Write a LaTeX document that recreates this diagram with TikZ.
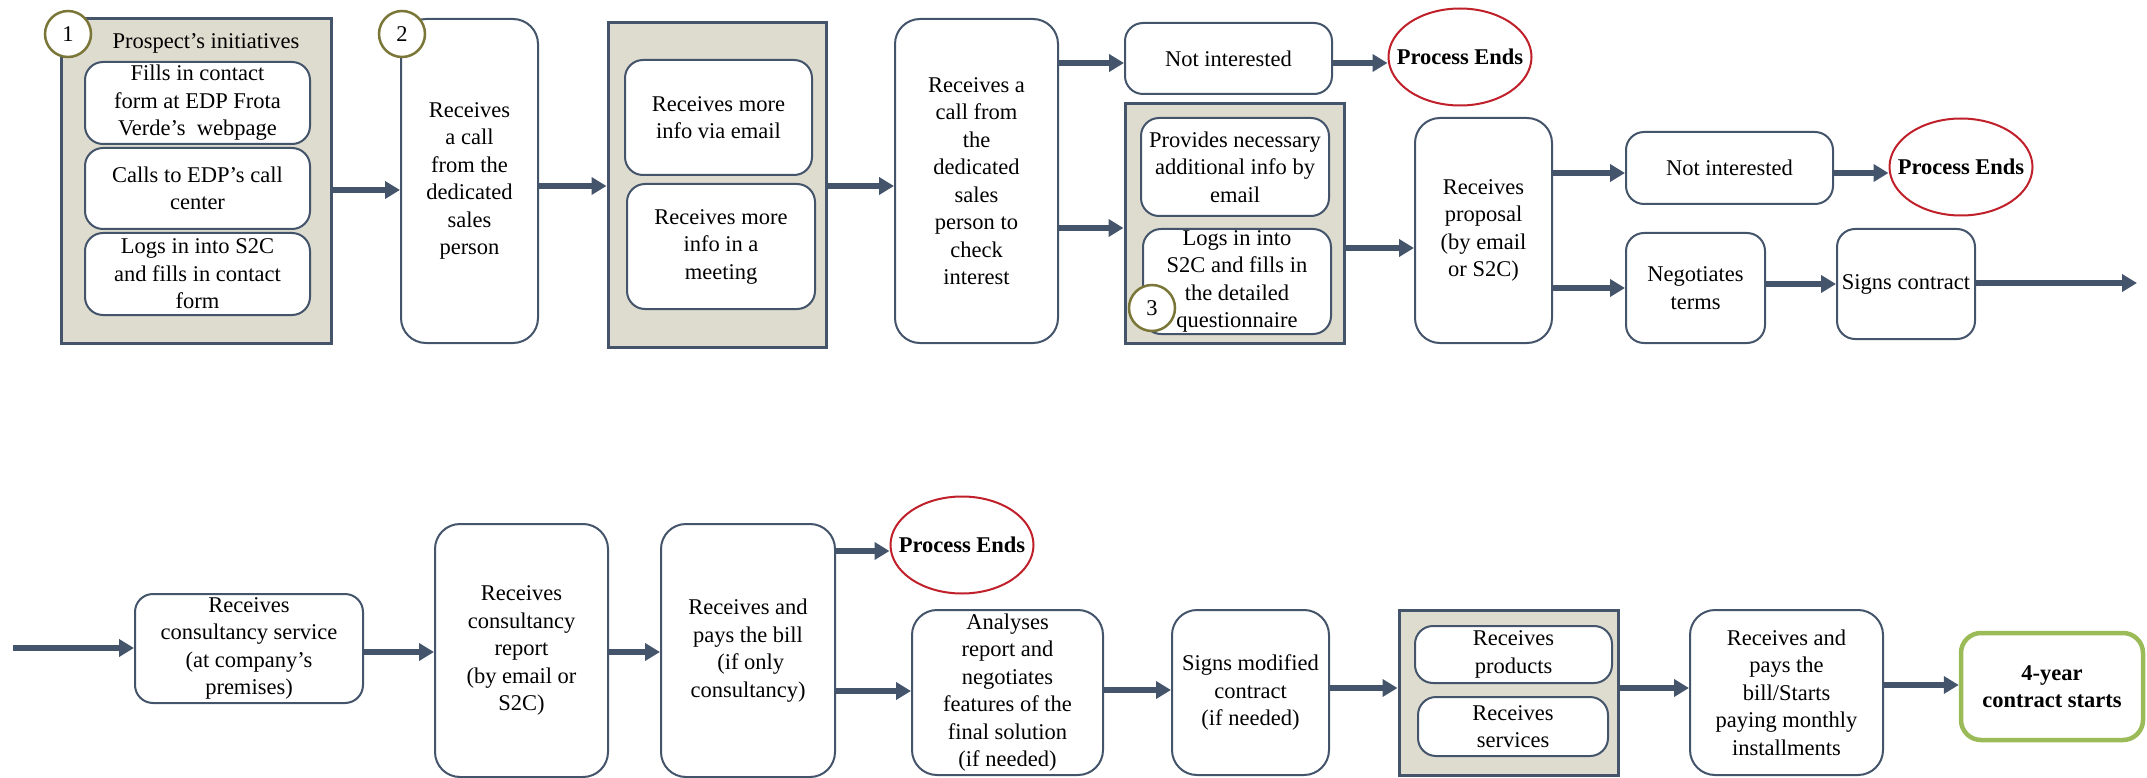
\documentclass[tikz,border=0pt]{standalone}
\usepackage{fontspec}
\setmainfont{Liberation Serif}
\usetikzlibrary{arrows.meta,shapes.geometric}
\definecolor{edge}{HTML}{44546A}
\definecolor{panel}{HTML}{DEDBCF}
\definecolor{stopred}{HTML}{C0202A}
\definecolor{olive}{HTML}{7A7638}
\definecolor{startgreen}{HTML}{9BBB59}
\newcommand{\processends}{\makebox[0pt]{Process Ends}}
\begin{document}
\begin{tikzpicture}[x=1pt,y=-1pt,
  txt/.style={font=\fontsize{22.5}{27.5}\selectfont, align=center, inner sep=0pt},
  stepbox/.style={txt, draw=edge, line width=2pt, fill=white, rounded corners=18pt},
  tallbox/.style={stepbox, rounded corners=25pt},
  panelbox/.style={draw=edge, line width=3pt, fill=panel, inner sep=0pt},
  endoval/.style={txt, ellipse, draw=stopred, line width=2pt, fill=white,
    minimum width=143pt, minimum height=97pt, font=\bfseries\fontsize{22.5}{27.5}\selectfont},
  numcircle/.style={txt, circle, draw=olive, line width=2.5pt, fill=white, minimum size=46pt},
  startbox/.style={txt, draw=startgreen, line width=4.5pt, fill=white, rounded corners=20pt,
    font=\bfseries\fontsize{22.5}{27.5}\selectfont},
  arr/.style={draw=edge, line width=6pt, -{Triangle[length=15pt,width=17pt]}},
]
\useasboundingbox (0,0) rectangle (2147,778);

% ---------- first row ----------
\node[panelbox, minimum width=270pt, minimum height=324pt] (g1) at (196,181) {};
\node[txt] (g1title) at (206,43) {Prospect’s initiatives};
\node[stepbox, minimum width=225pt, minimum height=82pt] (web) at (197.5,103)
  {Fills in contact\\form at EDP Frota\\Verde’s\ \ webpage};
\node[stepbox, minimum width=225pt, minimum height=81pt] (callc) at (197.5,188.5)
  {Calls to EDP’s call\\center};
\node[stepbox, minimum width=225pt, minimum height=82pt] (form) at (197.5,274)
  {Logs in into S2C\\and fills in contact\\form};
\node[numcircle] (n1) at (68,34) {1};

\node[tallbox, minimum width=137pt, minimum height=324pt] (b2) at (469.5,181)
  {Receives\\a call\\from the\\dedicated\\sales\\person};
\node[numcircle] (n2) at (402,34) {2};

\node[panelbox, minimum width=218pt, minimum height=324pt] (g3) at (717,185) {};
\node[stepbox, minimum width=187pt, minimum height=115pt] (email) at (718.5,117.5)
  {Receives more\\info via email};
\node[stepbox, minimum width=188pt, minimum height=125pt] (meet) at (721,246.5)
  {Receives more\\info in a\\meeting};

\node[tallbox, minimum width=163pt, minimum height=324pt] (b4) at (976.5,181)
  {Receives a\\call from\\the\\dedicated\\sales\\person to\\check\\interest};

\node[stepbox, minimum width=207pt, minimum height=71pt] (ni1) at (1228.5,58.5) {Not interested};
\node[endoval] (pe1) at (1460,57) {\processends};

\node[panelbox, minimum width=219pt, minimum height=239pt] (g5) at (1234.5,223.5) {};
\node[stepbox, minimum width=188pt, minimum height=98pt] (prov) at (1235,167)
  {Provides necessary\\additional info by\\email};
\node[stepbox, minimum width=188pt, minimum height=105pt] (quest) at (1237,281.5)
  {Logs in into\\S2C and fills in\\the detailed\\questionnaire};
\node[numcircle] (n3) at (1152,308) {3};

\node[tallbox, minimum width=137pt, minimum height=225pt] (prop) at (1483.5,230.5)
  {Receives\\proposal\\(by email\\or S2C)};
\node[stepbox, minimum width=207pt, minimum height=72pt] (ni2) at (1729.5,168) {Not interested};
\node[endoval] (pe2) at (1961,167) {\processends};
\node[stepbox, minimum width=139pt, minimum height=110pt] (neg) at (1695.5,288)
  {Negotiates\\terms};
\node[stepbox, minimum width=138pt, minimum height=110pt] (sign) at (1906,284)
  {Signs contract};
\coordinate (rowend) at (2137,283);

% ---------- second row ----------
\coordinate (rowstart) at (13,648);
\node[stepbox, minimum width=228pt, minimum height=109pt] (serv) at (249,648.5)
  {Receives\\consultancy service\\(at company’s\\premises)};
\node[tallbox, minimum width=173pt, minimum height=253pt] (rep) at (521.5,650.5)
  {Receives\\consultancy\\report\\(by email or\\S2C)};
\node[tallbox, minimum width=174pt, minimum height=253pt] (bill) at (748,650.5)
  {Receives and\\pays the bill\\\ (if only\\consultancy)};
\node[endoval] (pe3) at (962,545) {\processends};
\node[tallbox, minimum width=191pt, minimum height=165pt] (anal) at (1007.5,692.5)
  {Analyses\\report and\\negotiates\\features of the\\final solution\\(if needed)};
\node[tallbox, minimum width=157pt, minimum height=165pt] (mod) at (1250.5,692.5)
  {Signs modified\\contract\\(if needed)};
\node[panelbox, minimum width=219pt, minimum height=165pt] (g6) at (1508.5,692.5) {};
\node[stepbox, minimum width=197pt, minimum height=57pt] (prod) at (1513.5,654.5)
  {Receives\\products};
\node[stepbox, minimum width=190pt, minimum height=59pt] (svc) at (1513,726.5)
  {Receives\\services};
\node[tallbox, minimum width=193pt, minimum height=165pt] (pay) at (1786.5,692.5)
  {Receives and\\pays the\\bill/Starts\\paying monthly\\installments};
\node[startbox, minimum width=182pt, minimum height=107pt] (four) at (2052,686.5)
  {4-year\\contract starts};

% ---------- connectors ----------
\draw[arr] (g1.east |- 0,190) -- (b2.west |- 0,190);
\draw[arr] (b2.east |- 0,186) -- (g3.west |- 0,186);
\draw[arr] (g3.east |- 0,186) -- (b4.west |- 0,186);
\draw[arr] (b4.east |- 0,63) -- (ni1.west |- 0,63);
\draw[arr] (b4.east |- 0,228) -- (g5.west |- 0,228);
\draw[arr] (ni1.east |- 0,63) -- (pe1.west |- 0,63);
\draw[arr] (g5.east |- 0,248) -- (prop.west |- 0,248);
\draw[arr] (prop.east |- 0,173) -- (ni2.west |- 0,173);
\draw[arr] (prop.east |- 0,288) -- (neg.west |- 0,288);
\draw[arr] (ni2.east |- 0,173) -- (pe2.west |- 0,173);
\draw[arr] (neg.east |- 0,284) -- (sign.west |- 0,284);
\draw[arr] (sign.east |- 0,283) -- (rowend);

\draw[arr] (rowstart) -- (serv.west |- 0,648);
\draw[arr] (serv.east |- 0,652) -- (rep.west |- 0,652);
\draw[arr] (rep.east |- 0,652) -- (bill.west |- 0,652);
\draw[arr] (bill.east |- 0,551) -- (pe3.west |- 0,551);
\draw[arr] (bill.east |- 0,691) -- (anal.west |- 0,691);
\draw[arr] (anal.east |- 0,690) -- (mod.west |- 0,690);
\draw[arr] (mod.east |- 0,688) -- (g6.west |- 0,688);
\draw[arr] (g6.east |- 0,688) -- (pay.west |- 0,688);
\draw[arr] (pay.east |- 0,685) -- (four.west |- 0,685);
\end{tikzpicture}
\end{document}
